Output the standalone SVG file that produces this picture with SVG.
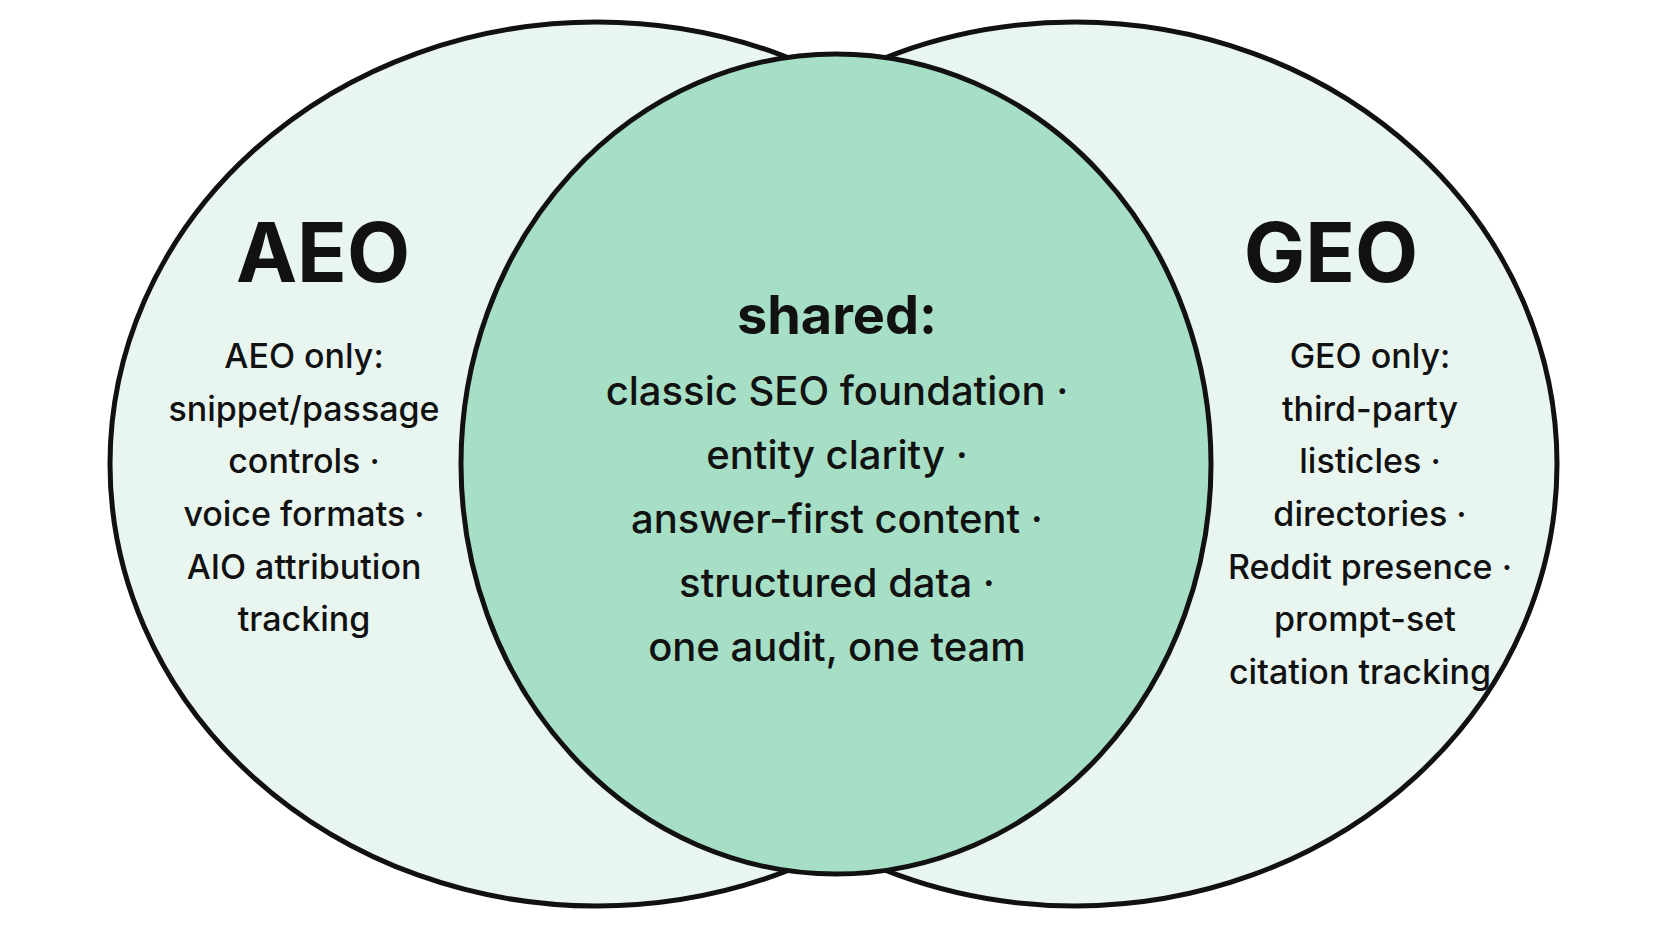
<svg xmlns="http://www.w3.org/2000/svg" width="1672" height="941" viewBox="0 0 1672 941">
<style>
.side{fill:#e8f6ef;stroke:#111;stroke-width:5}
.mid{fill:#a6dfc6;stroke:#111;stroke-width:5}
text{font-family:Inter,"Noto Sans",sans-serif;fill:#111;text-anchor:middle}
.h{font-size:82px;font-weight:700}
.s{font-size:34px;font-weight:500}
.c{font-size:40px;font-weight:500}
.ch{font-size:54px;font-weight:700}
</style>
<rect width="1672" height="941" fill="#fff"/>
<g id="aeo"><ellipse class="side" cx="597" cy="464" rx="487" ry="442"/></g>
<g id="geo"><ellipse class="side" cx="1075" cy="464" rx="482" ry="442"/></g>
<g id="shared"><ellipse class="mid" cx="836" cy="464" rx="375" ry="410"/></g>
<g id="connectors"></g>
<g id="aeo-text">
<text class="h" x="323" y="282">AEO</text>
<text class="s" x="304" y="368">AEO only:</text>
<text class="s" x="304" y="421">snippet/passage</text>
<text class="s" x="304" y="473">controls ·</text>
<text class="s" x="304" y="526">voice formats ·</text>
<text class="s" x="304" y="579">AIO attribution</text>
<text class="s" x="304" y="631">tracking</text>
</g>
<g id="shared-text">
<text class="ch" x="837" y="334">shared:</text>
<text class="c" x="837" y="405">classic SEO foundation ·</text>
<text class="c" x="837" y="469">entity clarity ·</text>
<text class="c" x="837" y="533">answer-first content ·</text>
<text class="c" x="837" y="597">structured data ·</text>
<text class="c" x="837" y="661">one audit, one team</text>
</g>
<g id="geo-text">
<text class="h" x="1331" y="282">GEO</text>
<text class="s" x="1370" y="368">GEO only:</text>
<text class="s" x="1370" y="421">third-party</text>
<text class="s" x="1370" y="473">listicles ·</text>
<text class="s" x="1370" y="526">directories ·</text>
<text class="s" x="1370" y="579">Reddit presence ·</text>
<text class="s" x="1365" y="631">prompt-set</text>
<text class="s" x="1360" y="684">citation tracking</text>
</g>
</svg>
